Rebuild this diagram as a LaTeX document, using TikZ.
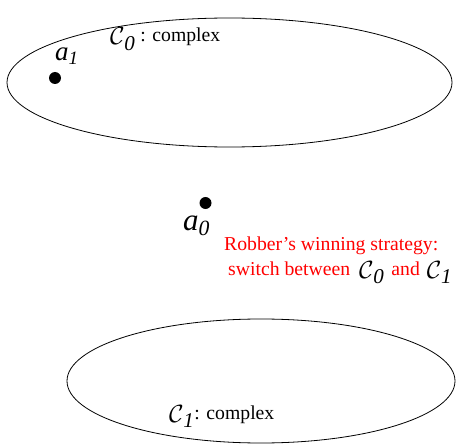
\documentclass[tikz,border=0pt]{standalone}
\usepackage{fontspec}
\setmainfont{Liberation Serif}
\usetikzlibrary{positioning}

\newcommand{\cset}[1]{\raisebox{-3pt}{\fontsize{30}{32}\selectfont$\mathcal{C}_{\mkern1mu\mathit{#1}}$}}

\begin{document}
\begin{tikzpicture}[x=1pt, y=-1pt,
    region/.style={draw, line width=0.8pt},
    vertex/.style={circle, fill=black, inner sep=0pt, minimum size=12pt},
    lbl/.style={inner sep=0pt, anchor=base west, font=\fontsize{19.7}{22}\selectfont},
    vname/.style={inner sep=0pt, anchor=base west},
    note/.style={inner sep=0pt, anchor=base west, text=red, font=\fontsize{19.7}{22}\selectfont}
]
\useasboundingbox (0,0) rectangle (456,444);

% Regions
\draw[region] (229.5,82.5) ellipse [x radius=222.5, y radius=64.5];
\draw[region] (261,381) ellipse [x radius=194, y radius=62];

% Vertices
\node[vertex] (a1) at (55,78) {};
\node[vertex] (a0) at (205.5,203) {};
\node[vname, font=\fontsize{27}{29}\selectfont] (a1lbl) at (55,61) {$\mathit{a}_{\mathit{1}}$};
\node[vname, font=\fontsize{31}{33}\selectfont] (a0lbl) at (183,230) {$\mathit{a}_{\mathit{0}}$};

% Region labels
\node[lbl] (c0lbl) at (110,42) {\cset{0} : complex};
\node[lbl] (c1lbl) at (169,419) {\cset{1}: complex};

% Annotation
\node[note] (win) at (224,250) {Robber's winning strategy:};
\node[note] (sw) at (228,275) {switch between\hspace{9pt}\textcolor{black}{\cset{0}}\hspace{7pt}and\hspace{7pt}\textcolor{black}{\cset{1}}};
\end{tikzpicture}
\end{document}
